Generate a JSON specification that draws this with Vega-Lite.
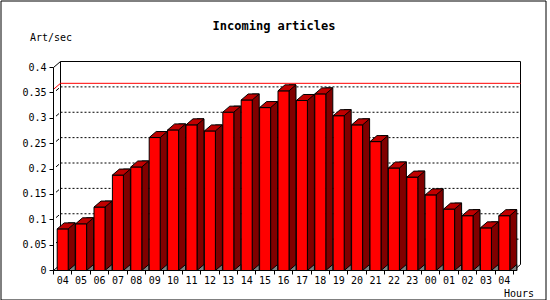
{
  "$schema": "https://vega.github.io/schema/vega-lite/v6.json",
  "autosize": "none",
  "padding": {"left": 0.5, "top": 0.5, "right": 4.5, "bottom": 0.5},
  "width": 545,
  "height": 299,
  "background": "white",
  "config": {"view": {"stroke": "black", "strokeWidth": 1, "fill": "white"}, "font": "DejaVu Sans Mono"},
  "title": {"text": "Incoming articles", "font": "DejaVu Sans Mono", "fontSize": 12, "fontWeight": "bold", "color": "black", "anchor": "middle", "frame": "group", "baseline": "alphabetic", "offset": -41.5, "dx": 1},
  "data": {"values": [
    {"h": "04", "v": 0.082}, {"h": "05", "v": 0.092}, {"h": "06", "v": 0.125}, {"h": "07", "v": 0.188},
    {"h": "08", "v": 0.204}, {"h": "09", "v": 0.262}, {"h": "10", "v": 0.277}, {"h": "11", "v": 0.287},
    {"h": "12", "v": 0.275}, {"h": "13", "v": 0.312}, {"h": "14", "v": 0.336}, {"h": "15", "v": 0.321},
    {"h": "16", "v": 0.354}, {"h": "17", "v": 0.335}, {"h": "18", "v": 0.348}, {"h": "19", "v": 0.305},
    {"h": "20", "v": 0.287}, {"h": "21", "v": 0.254}, {"h": "22", "v": 0.202}, {"h": "23", "v": 0.184},
    {"h": "00", "v": 0.149}, {"h": "01", "v": 0.121}, {"h": "02", "v": 0.108}, {"h": "03", "v": 0.084},
    {"h": "04 ", "v": 0.108}
  ]},
  "encoding": {
    "x": {
      "field": "h", "type": "ordinal",
      "scale": {"domain": ["04","05","06","07","08","09","10","11","12","13","14","15","16","17","18","19","20","21","22","23","00","01","02","03","04 "], "range": [60, 520], "paddingInner": 0, "paddingOuter": 0},
      "axis": {"orient": "bottom", "offset": -22, "translate": -7, "tickBand": "extent", "tickSize": 4, "tickColor": "black", "domainColor": "black", "labelFont": "DejaVu Sans Mono", "labelFontSize": 10, "labelColor": "black", "labelPadding": 1, "labelAngle": 0, "labelBaseline": "top", "labelOverlap": false, "labelExpr": "trim(datum.label)", "title": "Hours", "titleFont": "DejaVu Sans Mono", "titleFontSize": 10, "titleFontWeight": "normal", "titleColor": "black", "titleAngle": 0, "titleAlign": "left", "titleBaseline": "alphabetic", "titleX": 510.5, "titleY": 26, "grid": false, "zindex": 1}
    },
    "y": {
      "field": "v", "type": "quantitative",
      "scale": {"domain": [0, 0.4], "range": [264, 61], "nice": false, "zero": true},
      "axis": {"orient": "left", "offset": -47, "translate": 6, "values": [0, 0.05, 0.1, 0.15, 0.2, 0.25, 0.3, 0.35, 0.4], "format": "~g", "tickSize": 4, "tickColor": "black", "domainColor": "black", "labelFont": "DejaVu Sans Mono", "labelFontSize": 10, "labelColor": "black", "labelPadding": 3, "grid": false, "title": "Art/sec", "titleFont": "DejaVu Sans Mono", "titleFontSize": 10, "titleFontWeight": "normal", "titleColor": "black", "titleAngle": 0, "titleAlign": "left", "titleBaseline": "alphabetic", "titleX": -23.5, "titleY": 34.5, "zindex": 1}
    }
  },
  "layer": [
    {
      "data": {"values": [{"g": 0.05}, {"g": 0.1}, {"g": 0.15}, {"g": 0.2}, {"g": 0.25}, {"g": 0.3}, {"g": 0.35}]},
      "mark": {"type": "rule", "color": "black", "strokeWidth": 1, "strokeDash": [2, 2]},
      "encoding": {"x": {"datum": "04", "type": "ordinal", "bandPosition": 0}, "x2": {"datum": "04 ", "bandPosition": 1}, "y": {"field": "g", "type": "quantitative"}}
    },
    {
      "data": {"values": [{"g": 0.4}]},
      "mark": {"type": "rule", "color": "black", "strokeWidth": 1},
      "encoding": {"x": {"datum": "04", "type": "ordinal", "bandPosition": 0}, "x2": {"datum": "04 ", "bandPosition": 1}, "y": {"field": "g", "type": "quantitative"}}
    },
    {
      "data": {"values": [{"lo": 0, "hi": 0.4}]},
      "mark": {"type": "rule", "color": "black", "strokeWidth": 1},
      "encoding": {"x": {"datum": "04", "type": "ordinal", "bandPosition": 0}, "y": {"field": "lo", "type": "quantitative"}, "y2": {"field": "hi"}}
    },
    {
      "data": {"values": [{"lo": 0, "hi": 0.4}]},
      "mark": {"type": "rule", "color": "black", "strokeWidth": 1},
      "encoding": {"x": {"datum": "04 ", "type": "ordinal", "bandPosition": 1}, "y": {"field": "lo", "type": "quantitative"}, "y2": {"field": "hi"}}
    },
    {
      "data": {"values": [{"g": 0.05}, {"g": 0.1}, {"g": 0.15}, {"g": 0.2}, {"g": 0.25}, {"g": 0.3}, {"g": 0.35}]},
      "mark": {"type": "point", "shape": "M-1.5,1.3L-4.5,3.9", "size": 4, "filled": false, "stroke": "black", "strokeWidth": 1, "opacity": 1},
      "encoding": {"x": {"datum": "04", "type": "ordinal", "bandPosition": 0}, "y": {"field": "g", "type": "quantitative"}}
    },
    {
      "data": {"values": [{"d": 0}, {"d": 0.4}]},
      "mark": {"type": "point", "shape": "M0,0L-7,6", "size": 4, "filled": false, "stroke": "black", "strokeWidth": 1, "opacity": 1},
      "encoding": {"x": {"datum": "04", "type": "ordinal", "bandPosition": 0}, "y": {"field": "d", "type": "quantitative"}}
    },
    {
      "data": {"values": [{"d": 0}]},
      "mark": {"type": "point", "shape": "M0,0L-7,6", "size": 4, "filled": false, "stroke": "black", "strokeWidth": 1, "opacity": 1},
      "encoding": {"x": {"datum": "04 ", "type": "ordinal", "bandPosition": 1}, "y": {"field": "d", "type": "quantitative"}}
    },
    {
      "data": {"values": [{"m": 0.357}]},
      "mark": {"type": "rule", "color": "#FF0000", "strokeWidth": 1},
      "encoding": {"x": {"datum": "04", "type": "ordinal", "bandPosition": 0}, "x2": {"datum": "04 ", "bandPosition": 1}, "y": {"field": "m", "type": "quantitative"}}
    },
    {
      "data": {"values": [{"m": 0.357}]},
      "mark": {"type": "point", "shape": "M0,0L-7,6", "size": 4, "filled": false, "stroke": "#FF0000", "strokeWidth": 1, "opacity": 1},
      "encoding": {"x": {"datum": "04", "type": "ordinal", "bandPosition": 0}, "y": {"field": "m", "type": "quantitative"}}
    },
    {
      "mark": {"type": "bar", "fill": "#800000", "stroke": "black", "strokeWidth": 1, "width": 7, "xOffset": 2, "y2Offset": 6},
      "encoding": {"y2": {"datum": 0}}
    },
    {
      "mark": {"type": "bar", "fill": "#FF0000", "stroke": "black", "strokeWidth": 1, "width": 11, "xOffset": -7, "yOffset": 6, "y2Offset": 6},
      "encoding": {"y2": {"datum": 0}}
    },
    {
      "mark": {"type": "point", "shape": "M-12.5,6L-1.5,6L5.5,0L-5.5,0Z", "size": 4, "filled": true, "fill": "#C00000", "stroke": "black", "strokeWidth": 1, "opacity": 1}
    },
    {
      "mark": {"type": "point", "shape": "M-1.5,6L5.5,0L5.5,6Z", "size": 4, "filled": true, "fill": "#808080", "stroke": "black", "strokeWidth": 1, "opacity": 1},
      "encoding": {"y": {"datum": 0, "type": "quantitative"}}
    }
  ]
}
